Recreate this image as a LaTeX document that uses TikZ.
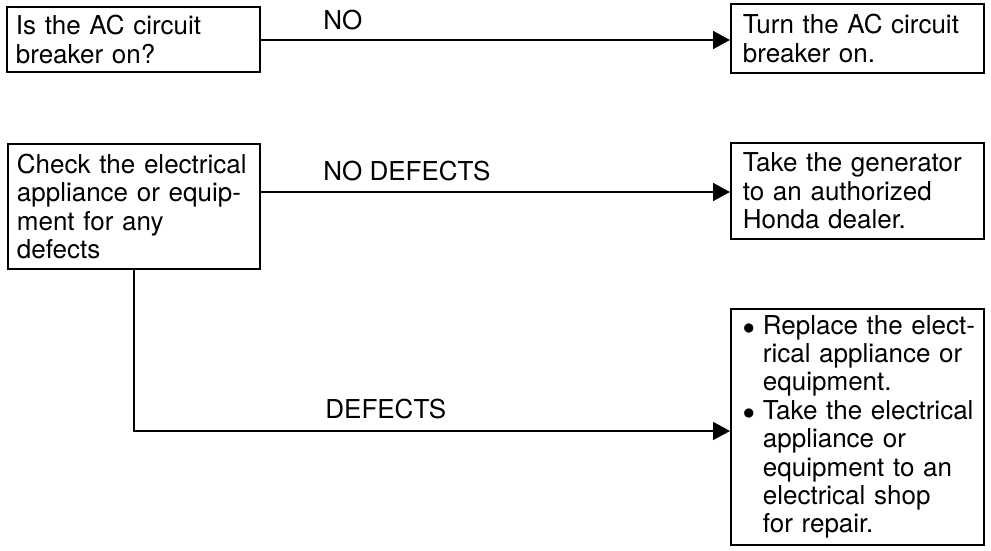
\documentclass[tikz,border=0pt]{standalone}
\usepackage{fontspec}
\setmainfont{TeX Gyre Heros}
\usetikzlibrary{positioning,arrows.meta}
\newcommand\itembul{\hspace*{2pt}\makebox[10pt][l]{$\bullet$}}
\newcommand\itemgap{\hspace*{12pt}}

\begin{document}
\begin{tikzpicture}[x=0.5pt,y=-0.5pt,
      box/.style={draw,line width=.9pt,anchor=north west,align=left,
                  inner xsep=4.5pt,inner ysep=0pt,font=\fontsize{13}{14.3}\selectfont},
      lbl/.style={anchor=base west,inner sep=0pt,font=\fontsize{13}{14}\selectfont},
      arr/.style={-{Triangle[length=8.5pt,width=9pt]},line width=.9pt}]
    \useasboundingbox (0,0) rectangle (991,551);
    \node[box,text width=117.5pt,minimum height=32.5pt] (qAC) at (6,6)
      {Is the AC circuit\\breaker on?};
    \node[box,inner xsep=6pt,text width=114.5pt,minimum height=34.5pt] (turnOn) at (730,3)
      {Turn the AC circuit\\breaker on.};
    \node[box,text width=117pt,minimum height=62.5pt] (chk) at (7,143)
      {Check the electrical\\appliance or equip-\\ment for any\\defects};
    \node[box,inner xsep=6pt,text width=114.5pt,minimum height=48pt] (dlr) at (730,142)
      {Take the generator\\to an authorized\\Honda dealer.};
    \node[box,inner xsep=4pt,text width=118.5pt,minimum height=118pt,
          font=\fontsize{13}{14.2}\selectfont] (rep) at (730,308)
      {\itembul Replace the elect-\\\itemgap rical appliance or\\\itemgap equipment.\\
       \itembul Take the electrical\\\itemgap appliance or\\\itemgap equipment to an\\
       \itemgap electrical shop\\\itemgap for repair.};
    % connectors
    \coordinate (acOut) at ([yshift=-17pt]qAC.north east);
    \coordinate (cdOut) at ([yshift=-24.5pt]chk.north east);
    \coordinate (dfDrop) at ([xshift=63.5pt]chk.south west);
    \coordinate (repIn) at ([yshift=-61.5pt]rep.north west);
    \draw[arr] (acOut) -- (acOut -| turnOn.west);
    \draw[arr] (cdOut) -- (cdOut -| dlr.west);
    \draw[arr] (dfDrop) |- (repIn);
    \node[lbl] (noLbl) at (323,30) {NO};
    \node[lbl] (okLbl) at (323,180) {NO DEFECTS};
    \node[lbl] (dfLbl) at (325,418) {DEFECTS};
  \end{tikzpicture}
\end{document}
